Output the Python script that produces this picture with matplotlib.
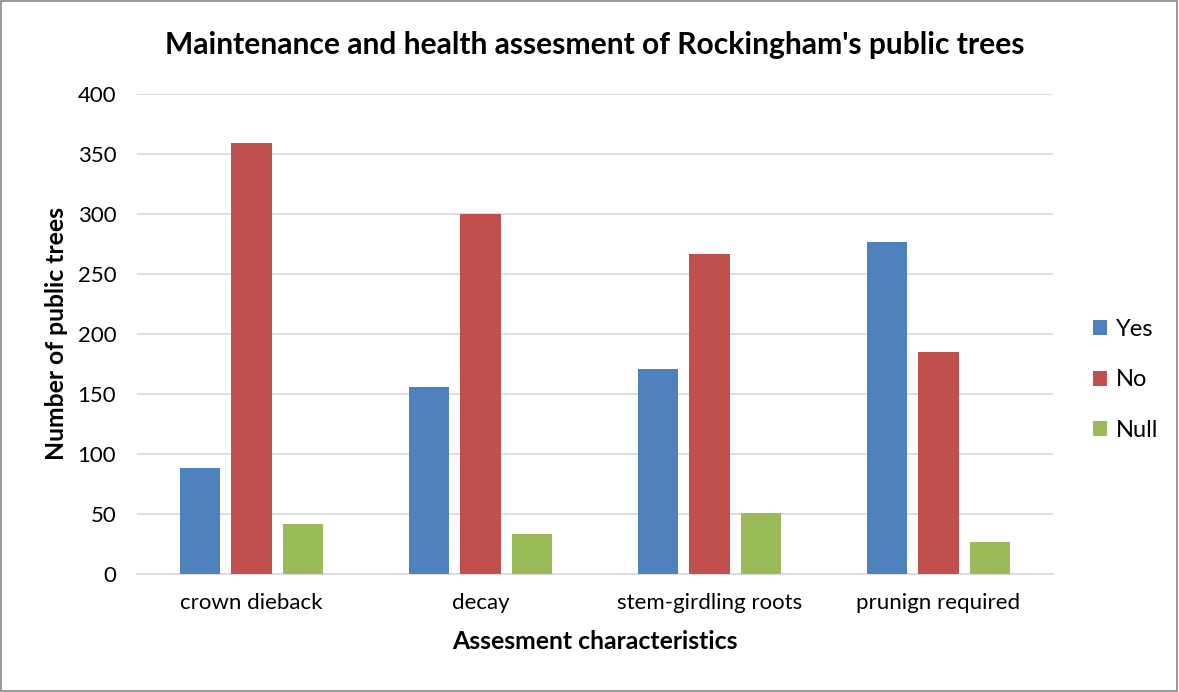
import matplotlib
matplotlib.use("Agg")
import matplotlib.pyplot as plt
import numpy as np
from matplotlib.patches import Rectangle

categories = ["crown dieback", "decay", "stem-girdling roots", "prunign required"]
series_names = ["Yes", "No", "Null"]
yes_vals = [88, 156, 171, 277]
no_vals = [359, 300, 267, 185]
null_vals = [42, 33, 51, 27]
colors = ["#4F81BD", "#C0504D", "#9BBB59"]
yticks = [0, 50, 100, 150, 200, 250, 300, 350, 400]

plt.rcParams['font.family'] = ['Lato', 'DejaVu Sans']

fig = plt.figure(figsize=(11.79, 6.92), dpi=100)
fig.patches.append(Rectangle((0.001, 0.001), 0.997, 0.997, transform=fig.transFigure,
                             fill=False, edgecolor="#888888", linewidth=1.2))
ax = fig.add_axes([137/1179, 1-574/692, (1053-137)/1179, (574-94)/692])

x = np.arange(len(categories))
w = 0.175
pitch = 0.223
for i, (vals, name, c) in enumerate(zip([yes_vals, no_vals, null_vals], series_names, colors)):
    ax.bar(x + (i-1)*pitch, vals, width=w, color=c, label=name, zorder=3)

ax.set_xlim(-0.5, len(categories)-0.5)
ax.set_ylim(0, 400)
ax.set_yticks(yticks)
ax.set_xticks(x)
ax.set_xticklabels(categories)
ax.tick_params(axis='both', length=0, labelsize=16, colors="#000000")
ax.tick_params(axis='y', pad=15)
ax.tick_params(axis='x', pad=14)
ax.grid(axis='y', color="#D9D9D9", linewidth=1.2, zorder=0)
for s in ["left", "right", "top"]:
    ax.spines[s].set_visible(False)
ax.spines["bottom"].set_color("#D9D9D9")
ax.spines["bottom"].set_linewidth(1.2)

ax.set_ylabel("Number of public trees", fontsize=17.8, fontweight='bold', labelpad=7)
ax.set_xlabel("Assesment characteristics", fontsize=17.8, fontweight='bold', labelpad=12)
fig.text(595/1179, 1-45/692, "Maintenance and health assesment of Rockingham's public trees",
         ha='center', va='center', fontsize=21.6, fontweight='bold')

leg = ax.legend(loc='center left', bbox_to_anchor=(1.02, (574-380)/480), frameon=False, fontsize=17,
                handlelength=0.6, handleheight=0.6, labelspacing=1.25, handletextpad=0.4)

fig.savefig("out.png", dpi=100)
